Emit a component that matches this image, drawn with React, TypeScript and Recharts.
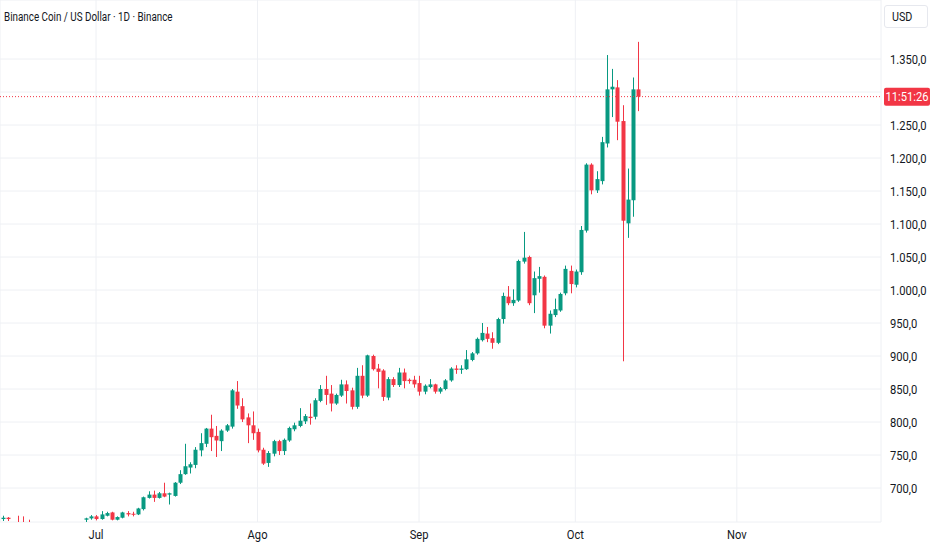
import { ComposedChart, Bar, XAxis, YAxis, CartesianGrid, ReferenceLine } from 'recharts'

// daily BNB/USD candles
const dates = [
  '2025-06-13', '2025-06-14', '2025-06-15', '2025-06-16', '2025-06-17', '2025-06-18', '2025-06-19', '2025-06-20',
  '2025-06-21', '2025-06-22', '2025-06-23', '2025-06-24', '2025-06-25', '2025-06-26', '2025-06-27', '2025-06-28',
  '2025-06-29', '2025-06-30',
  '2025-07-01', '2025-07-02', '2025-07-03', '2025-07-04', '2025-07-05', '2025-07-06', '2025-07-07', '2025-07-08',
  '2025-07-09', '2025-07-10', '2025-07-11', '2025-07-12', '2025-07-13', '2025-07-14', '2025-07-15', '2025-07-16',
  '2025-07-17', '2025-07-18', '2025-07-19', '2025-07-20', '2025-07-21', '2025-07-22', '2025-07-23', '2025-07-24',
  '2025-07-25', '2025-07-26', '2025-07-27', '2025-07-28', '2025-07-29', '2025-07-30', '2025-07-31',
  '2025-08-01', '2025-08-02', '2025-08-03', '2025-08-04', '2025-08-05', '2025-08-06', '2025-08-07', '2025-08-08',
  '2025-08-09', '2025-08-10', '2025-08-11', '2025-08-12', '2025-08-13', '2025-08-14', '2025-08-15', '2025-08-16',
  '2025-08-17', '2025-08-18', '2025-08-19', '2025-08-20', '2025-08-21', '2025-08-22', '2025-08-23', '2025-08-24',
  '2025-08-25', '2025-08-26', '2025-08-27', '2025-08-28', '2025-08-29', '2025-08-30', '2025-08-31',
  '2025-09-01', '2025-09-02', '2025-09-03', '2025-09-04', '2025-09-05', '2025-09-06', '2025-09-07', '2025-09-08',
  '2025-09-09', '2025-09-10', '2025-09-11', '2025-09-12', '2025-09-13', '2025-09-14', '2025-09-15', '2025-09-16',
  '2025-09-17', '2025-09-18', '2025-09-19', '2025-09-20', '2025-09-21', '2025-09-22', '2025-09-23', '2025-09-24',
  '2025-09-25', '2025-09-26', '2025-09-27', '2025-09-28', '2025-09-29', '2025-09-30',
  '2025-10-01', '2025-10-02', '2025-10-03', '2025-10-04', '2025-10-05', '2025-10-06', '2025-10-07', '2025-10-08',
  '2025-10-09', '2025-10-10', '2025-10-11', '2025-10-12', '2025-10-13',
]

const opens = [
  653, 655, 647, 647, 646, 640, 638, 636, 633, 626, 614, 640, 644, 644, 640, 642, 652, 654,
  657, 653, 658, 663, 652, 655, 662, 661, 660, 668, 685, 690, 685, 692, 690, 688, 708, 721, 731, 735, 757, 767, 790, 779, 771, 787, 793, 846, 824, 807, 795,
  785, 758, 738, 752, 771, 756, 772, 789, 794, 801, 808, 808, 832, 850, 843, 828, 840, 857, 848, 823, 870, 840, 900, 881, 878, 837, 865, 856, 875, 864, 864,
  859, 846, 853, 857, 846, 850, 863, 881, 879, 880, 894, 904, 924, 934, 927, 920, 956, 990, 980, 984, 1043, 1050, 992, 1017, 1020, 946, 962, 969, 995, 1029,
  1008, 1027, 1090, 1190, 1151, 1165, 1222, 1304, 1307, 1256, 1101, 1136, 1304,
]

const highs = [
  658, 656, 648, 658, 657, 652, 645, 646, 637, 630, 644, 647, 647, 647, 646, 648, 655, 659,
  659, 665, 664, 664, 657, 664, 665, 664, 670, 687, 695, 696, 694, 708, 693, 709, 727, 767, 739, 762, 783, 791, 811, 794, 789, 797, 850, 862, 836, 813, 816,
  790, 761, 756, 773, 773, 775, 793, 799, 821, 812, 828, 836, 856, 870, 856, 843, 864, 863, 852, 882, 886, 902, 902, 888, 880, 868, 868, 882, 881, 866, 870,
  870, 857, 865, 858, 853, 865, 883, 886, 886, 909, 906, 928, 950, 944, 936, 958, 996, 1006, 1001, 1046, 1088, 1052, 1028, 1035, 1022, 969, 987, 996, 1037, 1037,
  1031, 1097, 1192, 1192, 1180, 1232, 1356, 1335, 1318, 1280, 1184, 1322, 1376,
]

const lows = [
  650, 650, 641, 640, 636, 634, 632, 628, 620, 600, 606, 636, 638, 636, 637, 640, 646, 652,
  651, 652, 657, 651, 651, 654, 657, 657, 659, 666, 684, 679, 684, 686, 675, 687, 706, 720, 722, 730, 748, 762, 756, 747, 756, 785, 790, 820, 800, 768, 773,
  754, 735, 732, 748, 750, 750, 770, 786, 792, 797, 796, 804, 830, 826, 816, 826, 838, 828, 819, 820, 836, 838, 878, 851, 832, 833, 853, 853, 851, 858, 852,
  840, 842, 851, 843, 843, 848, 861, 873, 873, 879, 892, 902, 922, 921, 911, 918, 949, 977, 976, 982, 1040, 977, 965, 996, 942, 934, 959, 967, 992, 995,
  1004, 1023, 1087, 1145, 1147, 1160, 1216, 1262, 1227, 892, 1079, 1111, 1271,
]

const closes = [
  655, 653, 645, 645, 640, 638, 636, 633, 626, 614, 640, 644, 644, 640, 642, 647, 654, 657,
  653, 660, 662, 652, 656, 663, 660, 660, 669, 686, 690, 685, 692, 687, 692, 708, 721, 733, 736, 758, 768, 790, 777, 772, 787, 795, 848, 825, 804, 795, 783,
  757, 737, 753, 771, 756, 773, 791, 795, 802, 809, 806, 833, 850, 841, 828, 841, 857, 847, 823, 870, 840, 901, 880, 876, 838, 865, 856, 875, 862, 862, 857,
  846, 855, 857, 846, 851, 863, 881, 879, 881, 895, 904, 926, 935, 926, 920, 956, 991, 980, 985, 1044, 1049, 980, 1018, 1021, 946, 964, 971, 994, 1032, 1009,
  1028, 1091, 1190, 1151, 1168, 1224, 1304, 1308, 1255, 1105, 1137, 1304, 1293,
]

const monthTicks = [0, 31, 62, 92, 123]
const monthLabels = ['Jul', 'Ago', 'Sep', 'Oct', 'Nov']
const priceTicks = [700, 750, 800, 850, 900, 950, 1000, 1050, 1100, 1150, 1200, 1250, 1300, 1350]

const UP = '#089981'
const DOWN = '#F23645'
const INK = '#131722'
const FONT = 'Roboto, "Liberation Sans", sans-serif'
const SQUEEZE = 0.86 // the screenshot uses a condensed face
const X_DOMAIN: [number, number] = [-18.43, 150.67]
const Y_DOMAIN: [number, number] = [648.5, 1439.4]

const dayIndex = (s: string) => (Date.parse(s + 'T00:00:00Z') - Date.parse('2025-07-01T00:00:00Z')) / 864e5

const candles = dates.map((date, i) => ({
  date,
  d: dayIndex(date),
  open: opens[i],
  high: highs[i],
  low: lows[i],
  close: closes[i],
  range: [lows[i], highs[i]],
}))

const fmtPrice = (v: number) => {
  const s = v.toFixed(1).replace('.', ',')
  return v >= 1000 ? s.slice(0, 1) + '.' + s.slice(1) : s
}

function Candle(props: any) {
  const { x, y, width, height, payload } = props
  if (!payload) return null
  const { open, close, high, low } = payload
  const color = close >= open ? UP : DOWN
  const k = high > low ? height / (high - low) : 0
  const cx = Math.round(x + width / 2) + 0.5
  const top = y + (high - Math.max(open, close)) * k
  const bot = y + (high - Math.min(open, close)) * k
  return (
    <g>
      <line x1={cx} x2={cx} y1={y} y2={y + height} stroke={color} strokeWidth={1} />
      <rect x={cx - 2} y={top} width={4} height={Math.max(1, bot - top)} fill={color} />
    </g>
  )
}

function PriceTick({ x, y, payload }: any) {
  return (
    <text transform={`translate(${x},${y}) scale(${SQUEEZE},1)`} dy="0.36em" textAnchor="start"
      fill={INK} fontSize={13} fontFamily={FONT}>{fmtPrice(payload.value)}</text>
  )
}

function MonthTick({ x, y, payload }: any) {
  return (
    <text transform={`translate(${x},${y}) scale(${SQUEEZE},1)`} dy="0.71em" textAnchor="middle"
      fill={INK} fontSize={13} fontFamily={FONT}>{monthLabels[monthTicks.indexOf(payload.value)] ?? ''}</text>
  )
}

function CountdownTag({ viewBox }: any) {
  if (!viewBox) return null
  const y = viewBox.y
  return (
    <g>
      <rect x={884} y={y - 9} width={46} height={18} rx={2} fill={DOWN} />
      <text transform={`translate(907,${y}) scale(${SQUEEZE},1)`} dy="0.36em" textAnchor="middle"
        fill="#fff" fontSize={13} fontFamily={FONT}>11:51:26</text>
    </g>
  )
}

export default function App() {
  return (
    <div style={{ position: 'absolute', left: 0, top: 0, width: 932, height: 550, background: '#fff', fontFamily: FONT }}>
      <ComposedChart width={932} height={550} data={candles} margin={{ top: 0, right: 0, bottom: 0, left: 0 }}>
        <CartesianGrid stroke="#EEF0F4" />
        <XAxis dataKey="d" type="number" domain={X_DOMAIN} ticks={monthTicks} allowDataOverflow
          axisLine={false} tickLine={false} tickSize={0} tickMargin={8} height={28} tick={<MonthTick />} />
        <YAxis orientation="right" type="number" domain={Y_DOMAIN} ticks={priceTicks} allowDataOverflow
          axisLine={false} tickLine={false} tickSize={0} tickMargin={9} width={51} tick={<PriceTick />} />
        <Bar dataKey="range" barSize={4} isAnimationActive={false} shape={(p: any) => <Candle {...p} />} />
      </ComposedChart>

      {/* last-price line and countdown tag, layered above the price scale */}
      <div style={{ position: 'absolute', left: 0, top: 0 }}>
        <ComposedChart width={932} height={550} data={candles} margin={{ top: 0, right: 51, bottom: 28, left: 0 }}>
          <XAxis dataKey="d" type="number" domain={X_DOMAIN} allowDataOverflow hide />
          <YAxis type="number" domain={Y_DOMAIN} allowDataOverflow hide />
          <ReferenceLine y={closes[closes.length - 1]} stroke={DOWN} strokeDasharray="1 2" strokeWidth={1}
            label={(p: any) => <CountdownTag viewBox={p.viewBox} />} />
        </ComposedChart>
      </div>

      <div style={{ position: 'absolute', left: 4, top: 10, fontSize: 12, color: INK, whiteSpace: 'nowrap',
        transform: 'scaleX(0.82)', transformOrigin: 'left center' }}>
        Binance Coin / US Dollar · 1D · Binance
      </div>
      <div style={{ position: 'absolute', left: 884, top: 5, width: 44, height: 23, boxSizing: 'border-box',
        border: '1px solid #E6E8EE', borderRadius: 3, background: '#fff' }}>
        <div style={{ position: 'absolute', left: 7, top: 3, fontSize: 12.5, color: INK,
          transform: `scaleX(${SQUEEZE})`, transformOrigin: 'left center' }}>USD</div>
      </div>
    </div>
  )
}
